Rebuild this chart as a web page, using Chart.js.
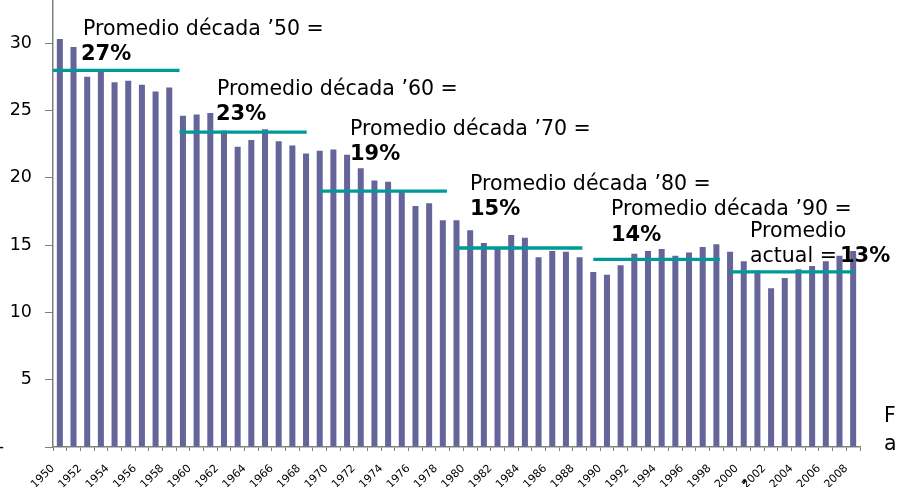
<!DOCTYPE html>
<html>
<head>
<meta charset="utf-8">
<script src="https://cdn.jsdelivr.net/npm/chart.js@4.4.0/dist/chart.umd.min.js"></script>
<style>
  html, body { margin: 0; padding: 0; background: #fff; }
  #wrap { width: 897px; height: 487px; position: relative; }
</style>
</head>
<body>
<div id="wrap"><canvas id="chart"></canvas></div>
<script>
// Categorias (años)
const years = [
  "1950", "1951", "1952", "1953", "1954", "1955", "1956", "1957", "1958", "1959",
  "1960", "1961", "1962", "1963", "1964", "1965", "1966", "1967", "1968", "1969",
  "1970", "1971", "1972", "1973", "1974", "1975", "1976", "1977", "1978", "1979",
  "1980", "1981", "1982", "1983", "1984", "1985", "1986", "1987", "1988", "1989",
  "1990", "1991", "1992", "1993", "1994", "1995", "1996", "1997", "1998", "1999",
  "2000", "2001", "2002", "2003", "2004", "2005", "2006", "2007", "2008"
];

// Valores de las barras
const yearValues = [
  30.3, 29.7, 27.5, 27.9, 27.1, 27.2, 26.9, 26.4, 26.7, 24.6,
  24.7, 24.8, 23.5, 22.3, 22.8, 23.6, 22.7, 22.4, 21.8, 22.0,
  22.1, 21.7, 20.7, 19.8, 19.7, 19.0, 17.9, 18.1, 16.85, 16.85,
  16.1, 15.15, 14.8, 15.75, 15.55, 14.1, 14.55, 14.5, 14.1, 13.0,
  12.8, 13.5, 14.35, 14.55, 14.7, 14.2, 14.45, 14.85, 15.05, 14.5,
  13.8, 13.1, 11.8, 12.55, 13.2, 13.45, 13.8, 14.2, 14.55
];

// Promedios por década (lineas)
const decadeFrom = [1949.5, 1958.75, 1969, 1979, 1989, 1999];
const decadeTo = [1958.75, 1968.05, 1978.3, 1988.2, 1998.25, 2008.1];
const decadeAverage = [27.97, 23.39, 19.01, 14.78, 13.94, 13.0];

// Textos
const decadeTitles = [
  "Promedio década ’50 =",
  "Promedio década ’60 =",
  "Promedio década ’70 =",
  "Promedio década ’80 =",
  "Promedio década ’90 ="
];
const decadePercents = ["27%", "23%", "19%", "15%", "14%", "13%"];
const yTickValues = [0, 5, 10, 15, 20, 25, 30];

const barColor = "#65659a";
const lineColor = "#00999a";
const fontFamily = "'DejaVu Sans', sans-serif";

const lineDatasets = decadeAverage.map((avg, i) => ({
  type: "line",
  xAxisID: "xLin",
  data: [
    { x: decadeFrom[i], y: avg },
    { x: decadeTo[i], y: avg }
  ],
  borderColor: lineColor,
  borderWidth: 3.3,
  borderCapStyle: "butt",
  pointRadius: 0,
  fill: false,
  order: 0
}));

// posiciones de los textos (izquierda, linea base)
const titlePos = [[83, 34.5], [217, 94.5], [350, 134.5], [470, 189.5], [611, 215]];
const percentPos = [[81, 59.5], [216, 120], [350, 160], [470, 215], [611, 241]];

const annotationPlugin = {
  id: "annotations",
  afterDatasetsDraw(chart) {
    const ctx = chart.ctx;
    ctx.save();
    ctx.fillStyle = "#000";
    ctx.textAlign = "left";
    ctx.textBaseline = "alphabetic";
    ctx.font = "20.5px " + fontFamily;
    decadeTitles.forEach((t, i) => ctx.fillText(t, titlePos[i][0], titlePos[i][1]));
    ctx.fillText("Promedio", 750, 236.5);
    ctx.fillText("actual =", 750, 261.5);
    ctx.fillText("F", 884, 422);
    ctx.fillText("a", 884, 450);
    ctx.font = "bold 21px " + fontFamily;
    for (let i = 0; i < 5; i++) {
      ctx.fillText(decadePercents[i], percentPos[i][0], percentPos[i][1]);
    }
    ctx.fillText(decadePercents[5], 840, 261.5);
    ctx.font = "bold 14px " + fontFamily;
    ctx.fillText(",", 742, 482);
    ctx.restore();
  }
};

new Chart(document.getElementById("chart"), {
  type: "bar",
  data: {
    labels: years,
    datasets: [
      {
        data: yearValues,
        backgroundColor: barColor,
        borderWidth: 0,
        grouped: false,
        categoryPercentage: 1,
        barPercentage: 0.44,
        order: 1
      },
      ...lineDatasets
    ]
  },
  options: {
    responsive: true,
    maintainAspectRatio: false,
    animation: false,
    layout: { padding: { left: 0, top: 0, right: 37, bottom: 0 } },
    plugins: {
      legend: { display: false },
      tooltip: { enabled: false }
    },
    scales: {
      x: {
        type: "category",
        offset: true,
        grid: {
          offset: true,
          drawOnChartArea: false,
          drawTicks: true,
          tickLength: 4,
          color: "#808080"
        },
        border: { display: true, color: "#808080", width: 1.5 },
        ticks: {
          autoSkip: false,
          minRotation: 45,
          maxRotation: 45,
          padding: 11,
          labelOffset: -7,
          color: "#000",
          font: { family: fontFamily, size: 11 },
          callback: function (value, index) {
            return index % 2 === 0 ? this.getLabelForValue(value) : "";
          }
        },
        afterFit(scale) {
          scale.height = 40;
          scale.paddingLeft = 0;
          scale.paddingRight = 0;
        }
      },
      xLin: {
        type: "linear",
        display: false,
        offset: false,
        grid: { offset: false },
        min: 1949.5,
        max: 2008.5
      },
      y: {
        min: 0,
        max: 33.2,
        grid: {
          drawOnChartArea: false,
          drawTicks: true,
          tickLength: 8,
          color: "#808080"
        },
        border: { display: true, color: "#808080", width: 1.5 },
        afterBuildTicks(scale) {
          scale.ticks = yTickValues.map((v) => ({ value: v }));
        },
        ticks: {
          padding: 13,
          color: "#000",
          font: { family: fontFamily, size: 17.5 },
          callback: (v) => (v === 0 ? "-     " : String(v))
        },
        afterFit(scale) {
          scale.width = 53;
          scale.paddingTop = 0;
          scale.paddingBottom = 0;
        }
      }
    }
  },
  plugins: [annotationPlugin]
});
</script>
</body>
</html>
